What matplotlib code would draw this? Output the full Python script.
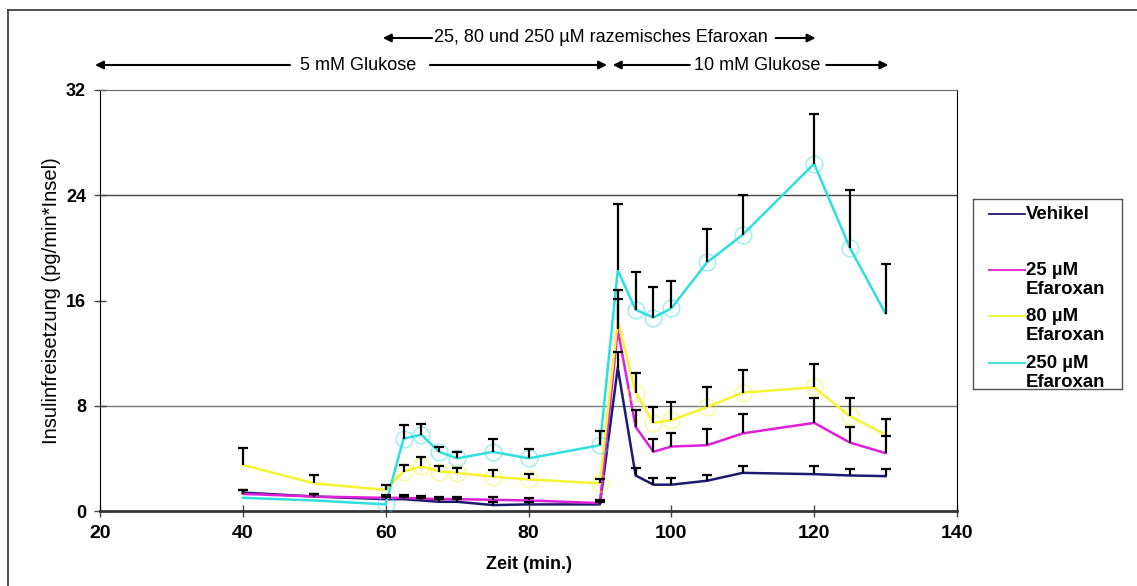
import numpy as np
import matplotlib.pyplot as plt
from matplotlib.lines import Line2D

# Zeitpunkte (min) und Insulinfreisetzung (pg/min*Insel)
zeit = [40, 50, 60, 62.5, 65, 67.5, 70, 75, 80, 90, 92.5, 95, 97.5, 100, 105, 110, 120, 125, 130]

vehikel = [1.4, 1.1, 0.9, 0.9, 0.8, 0.7, 0.7, 0.45, 0.5, 0.5, 10.9, 2.7, 2.0, 2.0, 2.3, 2.9, 2.8, 2.7, 2.65]
vehikel_err = [0.2, 0.2, 0.2, 0.2, 0.2, 0.2, 0.2, 0.2, 0.2, 0.2, 1.2, 0.6, 0.5, 0.5, 0.4, 0.5, 0.6, 0.5, 0.55]

efa25 = [1.3, 1.1, 1.0, 1.0, 0.95, 0.9, 0.9, 0.85, 0.8, 0.6, 13.8, 6.4, 4.5, 4.9, 5.0, 5.9, 6.7, 5.2, 4.4]
efa25_err = [0.3, 0.2, 0.2, 0.2, 0.2, 0.2, 0.2, 0.2, 0.2, 0.2, 2.3, 1.3, 1.0, 1.0, 1.2, 1.5, 1.9, 1.2, 1.3]

efa80 = [3.5, 2.1, 1.6, 3.0, 3.4, 3.0, 2.9, 2.6, 2.4, 2.1, 14.5, 9.0, 6.7, 6.9, 7.9, 9.0, 9.4, 7.2, 5.8]
efa80_err = [1.3, 0.6, 0.4, 0.5, 0.7, 0.4, 0.4, 0.5, 0.4, 0.3, 2.3, 1.5, 1.2, 1.4, 1.5, 1.7, 1.8, 1.4, 1.2]

efa250 = [1.0, 0.8, 0.5, 5.5, 5.8, 4.5, 4.0, 4.5, 4.0, 5.0, 18.3, 15.3, 14.7, 15.4, 18.9, 21.0, 26.4, 20.0, 15.0]
efa250_err = [0.0, 0.0, 0.0, 1.0, 0.8, 0.4, 0.5, 1.0, 0.7, 1.1, 5.0, 2.9, 2.3, 2.1, 2.5, 3.0, 3.8, 4.4, 3.8]

# Punkte mit Kreismarkierung
kreis_250 = [0, 0, 1, 1, 1, 1, 1, 1, 1, 1, 0, 1, 1, 1, 1, 1, 1, 1, 0]
kreis_80 = [0, 0, 0, 1, 1, 1, 1, 1, 1, 1, 0, 1, 1, 1, 1, 1, 1, 1, 0]

farben = {'Vehikel': '#1c1a6e', '25': '#e020d8', '80': '#f4f430', '250': '#30dede'}

schmal = ['Liberation Sans Narrow', 'Liberation Sans', 'DejaVu Sans']
plt.rcParams['font.family'] = ['Liberation Sans', 'DejaVu Sans']

fig = plt.figure(figsize=(11.37, 5.86), dpi=100)
ax = fig.add_axes([100/1137, 1-511/586, 857/1137, 421/586])

serien = [(vehikel, vehikel_err, farben['Vehikel'], None),
          (efa25, efa25_err, farben['25'], None),
          (efa80, efa80_err, farben['80'], kreis_80),
          (efa250, efa250_err, farben['250'], kreis_250)]

for werte, fehler, farbe, kreise in serien:
    ax.plot(zeit, werte, color=farbe, lw=1.8, zorder=3)
    if kreise is not None:
        t = [z for z, k in zip(zeit, kreise) if k]
        w = [v for v, k in zip(werte, kreise) if k]
        ax.plot(t, w, ls='none', marker='o', ms=12, mfc='none', mec=farbe,
                mew=1.0, alpha=0.5, zorder=3)
    # nur obere Fehlerbalken mit Kappe
    x = np.array(zeit, dtype=float)
    w = np.array(werte)
    e = np.array(fehler)
    m = e > 0
    ax.vlines(x[m], w[m], w[m] + e[m], color='black', lw=1.6, zorder=4)
    ax.plot(x[m], w[m] + e[m], ls='none', marker='_', ms=7, mew=1.6,
            color='black', zorder=4)

ax.set_xlim(20, 140)
ax.set_ylim(0, 32)
ax.set_xticks([20, 40, 60, 80, 100, 120, 140])
ax.set_yticks([0, 8, 16, 24, 32])
for y in [8, 24]:
    ax.axhline(y, color='#444444' if y == 24 else '#777777', lw=1, zorder=1)

ax.spines['left'].set_color('black')
ax.spines['right'].set_color('black')
ax.spines['top'].set_color('#666666')
ax.spines['bottom'].set_color('#333333')
ax.spines['bottom'].set_linewidth(2)
ax.tick_params(direction='inout', length=8, width=1, color='#444444', pad=6)
for lab in ax.get_yticklabels():
    lab.set_fontsize(13)
    lab.set_fontweight('bold')
for lab in ax.get_xticklabels():
    lab.set_fontsize(14)
    lab.set_fontfamily(schmal)
    lab.set_fontweight('bold')

ax.set_xlabel('Zeit (min.)', fontsize=13, fontweight='bold', family=schmal, labelpad=10)
ax.set_ylabel('Insulinfreisetzung (pg/min*Insel)', fontsize=14.5, labelpad=4)

# Pfeile oberhalb des Diagramms
pfeil = dict(arrowstyle='-|>', color='black', lw=1.5, mutation_scale=12, shrinkA=0, shrinkB=0)
def pfeil_zeichnen(x0, x1, y):
    ax.annotate('', xy=(x1, y), xytext=(x0, y), xycoords=('data', 'axes fraction'),
                textcoords=('data', 'axes fraction'), arrowprops=pfeil, annotation_clip=False)

y1 = (511 - 38) / 421
y2 = (511 - 65) / 421
pfeil_zeichnen(66.5, 59.6, y1)
ax.text(90.2, y1, '25, 80 und 250 µM razemisches Efaroxan', transform=ax.get_xaxis_transform(),
        ha='center', va='center', fontsize=13, family=schmal)
pfeil_zeichnen(114.6, 120.2, y1)

pfeil_zeichnen(46.6, 19.3, y2)
ax.text(56.2, y2, '5 mM Glukose', transform=ax.get_xaxis_transform(),
        ha='center', va='center', fontsize=13, family=schmal)
pfeil_zeichnen(66.2, 91.0, y2)
pfeil_zeichnen(102.6, 91.8, y2)
ax.text(112.0, y2, '10 mM Glukose', transform=ax.get_xaxis_transform(),
        ha='center', va='center', fontsize=13, family=schmal)
pfeil_zeichnen(121.7, 130.4, y2)

# Legende als eigenes Feld
lg = fig.add_axes([973/1137, 1-389/586, 149/1137, 190/586])
lg.set_xlim(0, 149)
lg.set_ylim(190, 0)
lg.set_xticks([])
lg.set_yticks([])
for s in lg.spines.values():
    s.set_color('#555555')
    s.set_linewidth(1)
eintraege = [('Vehikel', farben['Vehikel'], 15),
             ('25 µM\nEfaroxan', farben['25'], 71),
             ('80 µM\nEfaroxan', farben['80'], 117),
             ('250 µM\nEfaroxan', farben['250'], 164)]
for text, farbe, y in eintraege:
    lg.add_line(Line2D([16, 52], [y, y], color=farbe, lw=1.3))
    lg.text(53, y - 8, text, ha='left', va='top', fontsize=13.4, fontweight='bold',
            linespacing=1.12)

# Rahmen um die Abbildung
fig.add_artist(Line2D([8/1137, 8/1137], [0, 1-10/586], color='#333333', lw=1.2))
fig.add_artist(Line2D([8/1137, 1], [1-10/586, 1-10/586], color='#333333', lw=1.2))

fig.savefig('out.png', dpi=100)
